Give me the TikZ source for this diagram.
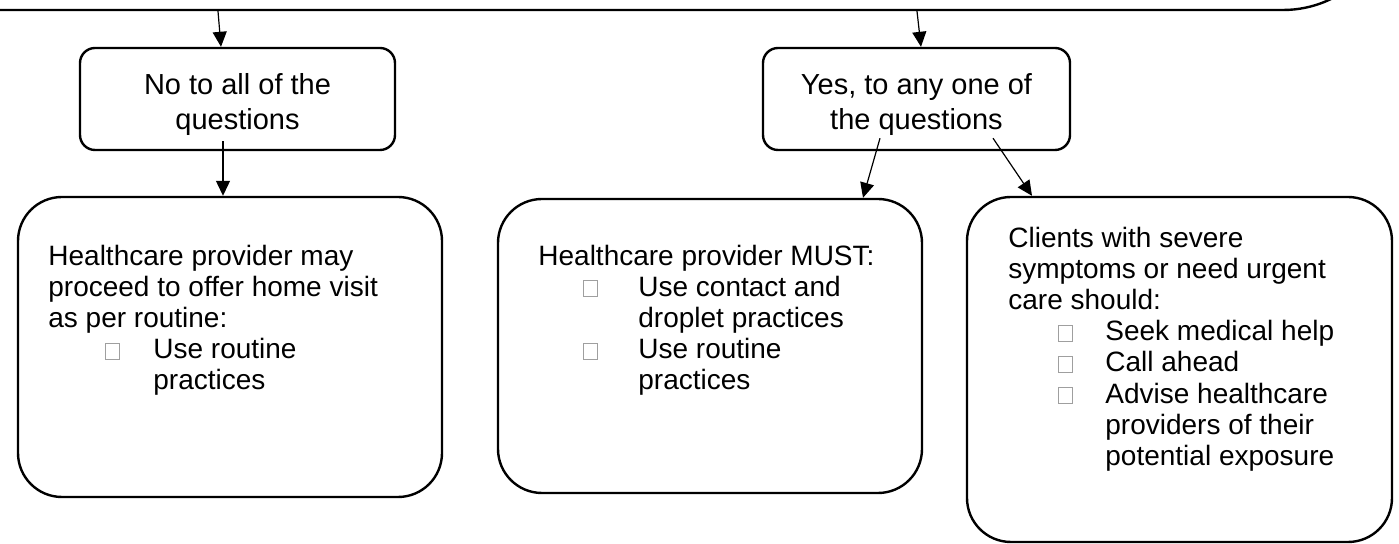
\documentclass[tikz,border=0pt]{standalone}
\usepackage{fontspec}
\setmainfont{Liberation Sans}
\usetikzlibrary{positioning,calc,arrows.meta}
\usepackage{xcolor}

\newcommand{\sqbul}{{\color{gray!75}\setlength{\fboxrule}{0.5pt}\setlength{\fboxsep}{0pt}\fbox{\rule{0pt}{7.5pt}\rule{6.5pt}{0pt}}}}
\newcommand{\itm}[3]{\hspace*{#1}\makebox[#2][l]{\sqbul}#3}

\begin{document}
\begin{tikzpicture}[x=0.5pt,y=-0.5pt,
  box/.style={draw,line width=1.2pt,rounded corners=7.5pt,align=center,inner sep=0pt,
    font=\fontsize{14.5}{17.5}\selectfont},
  bigbox/.style={draw,line width=1.2pt,rounded corners=22pt,inner sep=0pt},
  txt/.style={anchor=north west,align=left,inner sep=0pt,font=\fontsize{14}{15.6}\selectfont},
  arr/.style={-{Triangle[length=7.5pt,width=7pt]},line width=0.6pt}]
\useasboundingbox (0,0) rectangle (1399,544);
% question box (cut off at the top)
\node[draw,line width=1.2pt,rounded corners=55pt,minimum width=796.5pt,minimum height=80pt] (top) at (596.5,-70) {};
% answers
\node[box,minimum width=157.5pt,minimum height=51pt] (no) at (237.5,99) {\rule{0pt}{16pt}No to all of the\\questions};
\node[box,minimum width=153.5pt,minimum height=51pt] (yes) at (916.5,99) {\rule{0pt}{16pt}Yes, to any one of\\the questions};
% outcomes
\node[bigbox,minimum width=212pt,minimum height=150pt] (routine) at (230,347) {};
\node[bigbox,minimum width=212pt,minimum height=147pt] (must) at (710,346) {};
\node[bigbox,minimum width=212.5pt,minimum height=172.5pt] (severe) at (1179.5,369.5) {};
\node[txt] (routinetxt) at (48,244.5) {Healthcare provider may\\
proceed to offer home visit\\
as per routine:\\
\itm{28.5pt}{24pt}{Use routine}\\
\hspace*{52.5pt}practices};
\node[txt] (musttxt) at (538,244.5) {Healthcare provider MUST:\\
\itm{22.5pt}{27.5pt}{Use contact and}\\
\hspace*{50pt}droplet practices\\
\itm{22.5pt}{27.5pt}{Use routine}\\
\hspace*{50pt}practices};
\node[txt] (severetxt) at (1008,226.5) {Clients with severe\\
symptoms or need urgent\\
care should:\\
\itm{25pt}{23.5pt}{Seek medical help}\\
\itm{25pt}{23.5pt}{Call ahead}\\
\itm{25pt}{23.5pt}{Advise healthcare}\\
\hspace*{48.5pt}providers of their\\
\hspace*{48.5pt}potential exposure};
% arrows
\draw[arr] ($(top.south)+(-378.5,0)$) -- ($(no.north)+(-16.5,0)$);
\draw[arr] ($(top.south)+(320.5,0)$) -- ($(yes.north)+(4.5,0)$);
\draw[arr] ($(no.south)+(-14.5,-10)$) -- ($(routine.north)+(-7,0)$);
\draw[arr] ($(yes.south)+(-36.5,-13)$) -- ($(must.north)+(153,0)$);
\draw[arr] ($(yes.south)+(76.5,-13)$) -- ($(severe.north)+(-147.5,0)$);
\end{tikzpicture}
\end{document}
